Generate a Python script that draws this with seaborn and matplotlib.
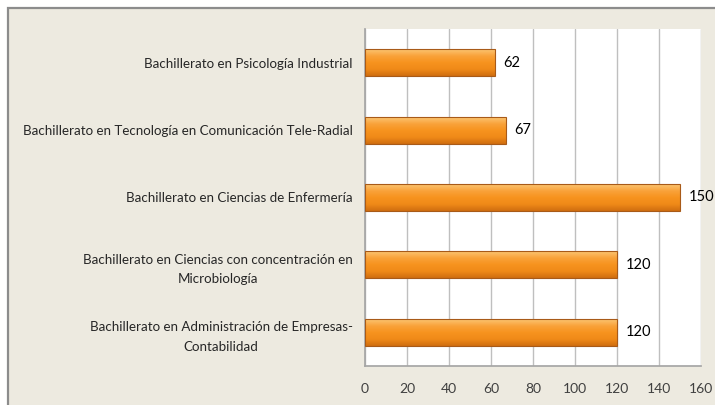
import matplotlib
matplotlib.use("Agg")
import matplotlib.pyplot as plt
import seaborn as sns
import numpy as np
import pandas as pd
from matplotlib.colors import LinearSegmentedColormap
from matplotlib.patches import Rectangle

categories = [
    "Bachillerato en Psicología Industrial",
    "Bachillerato en Tecnología en Comunicación Tele-Radial",
    "Bachillerato en Ciencias de Enfermería",
    "Bachillerato en Ciencias con concentración en\nMicrobiología",
    "Bachillerato en Administración de Empresas-\nContabilidad",
]
values = [62, 67, 150, 120, 120]
xticks = [0, 20, 40, 60, 80, 100, 120, 140, 160]

sns.set_theme(style="white")
plt.rcParams["font.family"] = ["Lato", "DejaVu Sans"]

bg = "#EDEAE0"
fig = plt.figure(figsize=(7.15, 4.05), dpi=100)
fig.patch.set_facecolor("white")
# outer frame
frame = Rectangle((8 / 715, -0.1), 1.2, (405 - 8) / 405 + 0.1,
                  transform=fig.transFigure, facecolor=bg,
                  edgecolor="#8C8C8C", linewidth=1.6, zorder=-10)
fig.patches.append(frame)

ax = fig.add_axes([365 / 715, (405 - 366) / 405, (701 - 365) / 715, (366 - 29) / 405])
ax.set_zorder(1)
ax.set_facecolor("white")

df = pd.DataFrame({"cat": categories, "val": values})
sns.barplot(data=df, x="val", y="cat", orient="h", color="#F7931E",
            width=0.4, edgecolor="#A85A18", linewidth=0.8, ax=ax, zorder=3)

cmap = LinearSegmentedColormap.from_list(
    "bar", ["#FCC572", "#F9A23A", "#F7931E", "#F08A18", "#D06E10"])
for p in ax.patches:
    x0, y0 = p.get_x(), p.get_y()
    w, h = p.get_width(), p.get_height()
    grad = np.linspace(0, 1, 64).reshape(-1, 1)
    # y axis is inverted: y0 is the top of the bar on screen
    im = ax.imshow(grad, extent=[x0, x0 + w, y0 + h, y0], origin="upper",
                   cmap=cmap, aspect="auto", zorder=3.5)
    im.set_clip_path(p)
    p.set_facecolor("none")
    p.set_zorder(4)

for i, v in enumerate(values):
    ax.text(v + 4, i, str(v), va="center", ha="left", fontsize=10.5,
            color="black", zorder=5, clip_on=False)

ax.set_xlim(0, 160)
ax.set_ylim(len(categories) - 0.5, -0.5)
ax.set_xticks(xticks)
ax.set_xticklabels([str(t) for t in xticks])
ax.xaxis.grid(True, color="#BFBFBF", linewidth=1.0, zorder=0)
ax.set_axisbelow(True)
ax.set_xlabel("")
ax.set_ylabel("")
for s in ["top", "right"]:
    ax.spines[s].set_visible(False)
ax.spines["left"].set_color("#A6A6A6")
ax.spines["bottom"].set_color("#A6A6A6")
ax.tick_params(axis="x", labelsize=10, colors="#404040", pad=12, length=0)
ax.tick_params(axis="y", labelsize=9.6, colors="#262626", pad=9, length=0)
for lbl in ax.get_yticklabels():
    lbl.set_multialignment("center")
    lbl.set_ha("right")
    lbl.set_linespacing(1.75)

fig.savefig("out.png", dpi=100, facecolor=fig.get_facecolor())
